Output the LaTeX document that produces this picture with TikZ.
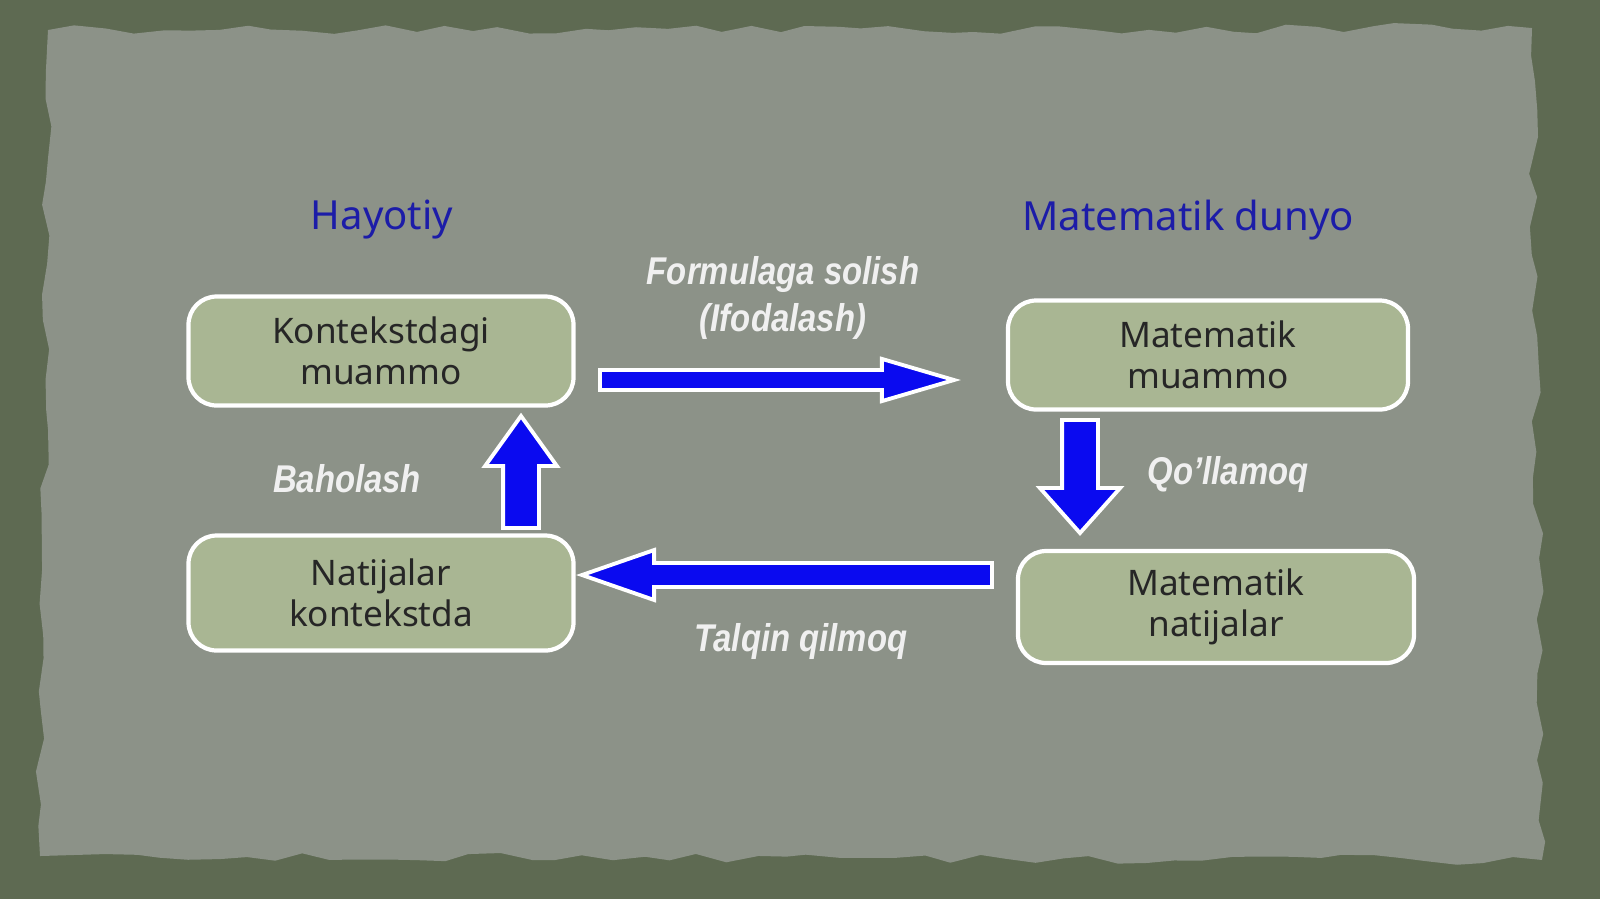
\documentclass[tikz,border=0pt]{standalone}
\usepackage{fontspec}
\setmainfont{Noto Sans}
\newfontfamily\lblfont[FakeStretch=0.85]{Liberation Sans}
\usetikzlibrary{calc,decorations.pathmorphing}
\definecolor{frame}{HTML}{5E6A52}
\definecolor{paper}{HTML}{8C9288}
\definecolor{boxfill}{HTML}{A9B693}
\definecolor{head}{HTML}{1C1CA8}
\definecolor{fat}{HTML}{0A0AF0}
\tikzset{
  box/.style={draw=white, line width=1.2pt, rounded corners=8pt, fill=boxfill,
    align=center, font=\fontsize{10}{11.8}\selectfont, text=black!85},
  title/.style={text=head, font=\fontsize{11.4}{13}\selectfont},
  lbl/.style={text=white!94!black, align=center,
    font=\lblfont\bfseries\itshape\fontsize{11}{13.5}\selectfont},
  fatarrow/.style={draw=white, line width=1.1pt, fill=fat, line join=miter},
}
\newcommand{\fatarrow}[5]{% from, to, shaft half width, head half width, head length
  \coordinate (hb) at ($(#2)!#5!(#1)$);
  \draw[fatarrow] ($(#1)!#3!90:(#2)$) -- ($(hb)!#3!-90:(#1)$) -- ($(hb)!#4!-90:(#1)$)
    -- (#2) -- ($(hb)!#4!90:(#1)$) -- ($(hb)!#3!90:(#1)$) -- ($(#1)!#3!-90:(#2)$) -- cycle;
}
\begin{document}
\begin{tikzpicture}[x=0.01cm, y=-0.01cm]
    \useasboundingbox (0,0) rectangle (1600,899);
    \fill[frame] (0,0) rectangle (1600,899);
    \fill[paper, decorate, decoration={random steps, segment length=8, amplitude=1.5}]
        (48,30) -- (1532,28) -- (1542,860) -- (40,856) -- cycle;
    % headers
    \node[title] (life) at (382,220) {Hayotiy};
    \node[title] (math) at (1188,220) {Matematik dunyo};
    % boxes
    \node[box, minimum width=385*0.01cm, minimum height=109*0.01cm] (ctx) at (381,351) {Kontekstdagi\\muammo};
    \node[box, minimum width=400*0.01cm, minimum height=109*0.01cm] (mprob) at (1208,355) {Matematik\\muammo};
    \node[box, minimum width=385*0.01cm, minimum height=115*0.01cm] (res) at (381,593) {Natijalar\\kontekstda};
    \node[box, minimum width=396*0.01cm, minimum height=112*0.01cm] (mres) at (1216,607) {Matematik\\natijalar};
    % arrows
    \coordinate (r1) at (600,380);  \coordinate (r2) at (954,380);
    \coordinate (d1) at (1080,420); \coordinate (d2) at (1080,533);
    \coordinate (l1) at (992,575);  \coordinate (l2) at (582,575);
    \coordinate (u1) at (521,528);  \coordinate (u2) at (521,416);
    \fatarrow{r1}{r2}{2.85pt}{6pt}{20.5pt}
    \fatarrow{d1}{d2}{5.1pt}{11.4pt}{12.8pt}
    \fatarrow{l1}{l2}{3.4pt}{7.1pt}{20.5pt}
    \fatarrow{u1}{u2}{5.1pt}{10.2pt}{14.2pt}
    % labels
    \node[lbl] (form) at (783,298) {Formulaga solish\\(Ifodalash)};
    \node[lbl] (eval) at (347,479) {Baholash};
    \node[lbl] (apply) at (1228,474) {Qo’llamoq};
    \node[lbl] (interp) at (801,641) {Talqin qilmoq};
\end{tikzpicture}
\end{document}
